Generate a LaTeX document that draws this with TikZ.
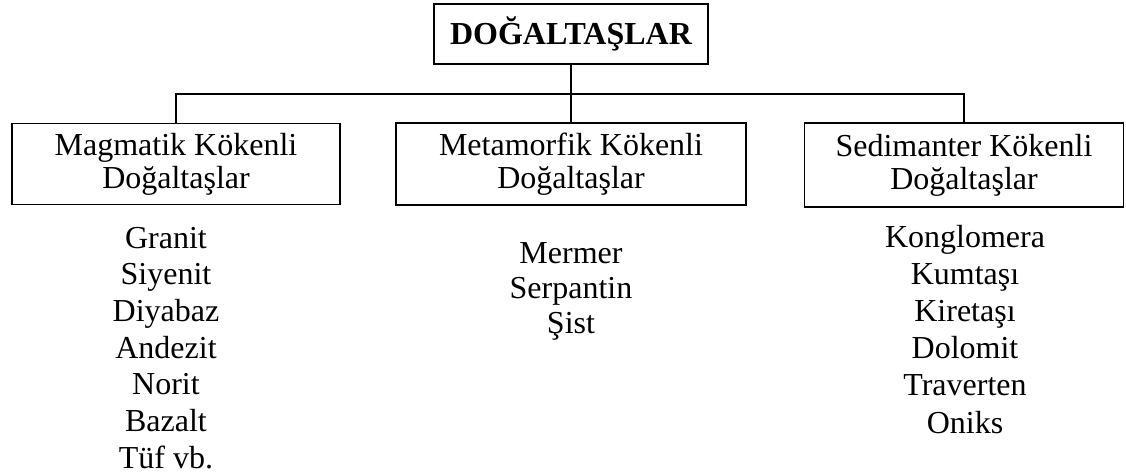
\documentclass[tikz,border=0pt]{standalone}
\usepackage{fontspec}
\setmainfont{Liberation Serif}
\begin{document}
\begin{tikzpicture}[x=1pt,y=-1pt,
  box/.style={draw,line width=1.6pt,inner sep=0pt,align=center},
  item/.style={anchor=base,inner sep=0pt,font=\fontsize{32}{36}\selectfont},
  link/.style={line width=1.6pt}]
\useasboundingbox (0,0) rectangle (1126,476);
\node[box,minimum width=274pt,minimum height=60pt,font=\fontsize{32}{36}\selectfont\bfseries] (top) at (571,34) {DOĞALTAŞLAR};
\node[box,minimum width=328pt,minimum height=81pt,font=\fontsize{32}{33}\selectfont] (mag) at (176,164) {Magmatik Kökenli\\Doğaltaşlar};
\node[box,minimum width=350pt,minimum height=82pt,font=\fontsize{32}{33}\selectfont] (met) at (571,164) {Metamorfik Kökenli\\Doğaltaşlar};
\node[box,minimum width=319pt,minimum height=84pt,font=\fontsize{32}{33}\selectfont] (sed) at (964,165) {Sedimanter Kökenli\\Doğaltaşlar};
\coordinate (j) at (571,94);
\draw[link] (top.south) -- (j) -- (met.north);
\draw[link] (mag.north) |- (j) -| (sed.north);
\foreach \t [count=\i] in {Granit,Siyenit,Diyabaz,Andezit,Norit,Bazalt,Tüf vb.}
  \node[item] (m\i) at (166,{248+36.7*(\i-1)}) {\t};
\foreach \t [count=\i] in {Mermer,Serpantin,Şist}
  \node[item] (t\i) at (571,{263+35*(\i-1)}) {\t};
\foreach \t [count=\i] in {Konglomera,Kumtaşı,Kiretaşı,Dolomit,Traverten,Oniks}
  \node[item] (s\i) at (965,{247+37.2*(\i-1)}) {\t};
\end{tikzpicture}
\end{document}
